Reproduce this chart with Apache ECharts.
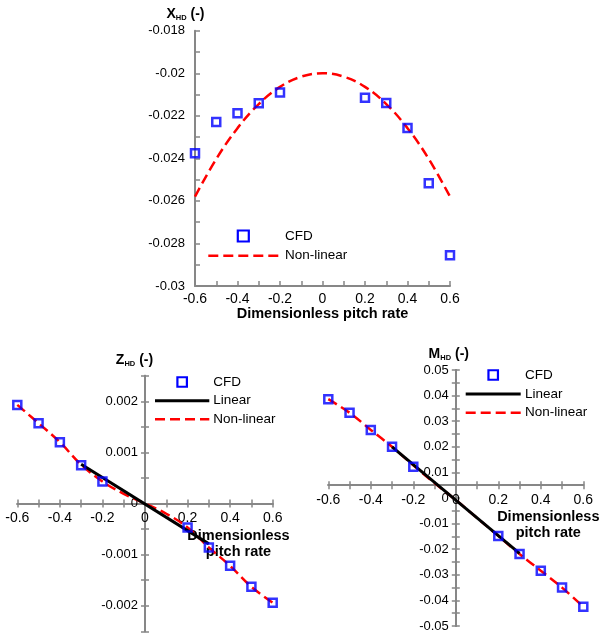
<!DOCTYPE html>
<html>
<head>
<meta charset="utf-8">
<script src="https://cdn.jsdelivr.net/npm/echarts@6/dist/echarts.min.js"></script>
<style>html,body{margin:0;padding:0;background:#fff}#c{width:600px;height:634px}</style>
</head>
<body>
<div id="c"></div>
<script>
// ---------- data ----------
const cfdQ = [-0.6, -0.5, -0.4, -0.3, -0.2, 0.2, 0.3, 0.4, 0.5, 0.6];
const lineQ = [-0.6, -0.5, -0.4, -0.3, -0.2, -0.1, 0, 0.1, 0.2, 0.3, 0.4, 0.5, 0.6];
const linearQ = [-0.3, 0.3];

const xCFD = [-0.02376, -0.02229, -0.02188, -0.02141, -0.02091, -0.02115, -0.02140, -0.02257, -0.02517, -0.02856];
const xNonLinear = [-0.0258, -0.02403, -0.02258, -0.02145, -0.02064, -0.02016, -0.0200, -0.02016, -0.02064, -0.02145, -0.02258, -0.02403, -0.0258];

const zCFD = [0.00193, 0.00157, 0.00120, 0.00075, 0.00043, -0.00047, -0.00086, -0.00122, -0.00163, -0.00194];
const zLinear = [0.00077, -0.00079];
const zNonLinear = [0.00193, 0.00157, 0.00120, 0.00076, 0.00043, 0.00019, 0, -0.00020, -0.00047, -0.00086, -0.00122, -0.00163, -0.00194];

const mCFD = [0.0386, 0.0333, 0.0266, 0.0200, 0.0122, -0.0148, -0.0219, -0.0284, -0.0350, -0.0425];
const mLinear = [0.0200, -0.0216];
const mNonLinear = [0.0386, 0.0333, 0.0266, 0.0200, 0.0128, 0.0058, -0.0008, -0.0078, -0.0148, -0.0219, -0.0284, -0.0350, -0.0425];

const xTickLabels = ['-0.6', '-0.4', '-0.2', '0', '0.2', '0.4', '0.6'];
const xName = 'Dimensionless pitch rate';
const legendNames = ['CFD', 'Linear', 'Non-linear'];

// axis ranges
const qRange = [-0.6, 0.6];
const xRange = [-0.03, -0.018];
const zRange = [-0.0025, 0.0025];
const mRange = [-0.05, 0.05];
const mCross = 0.005; // horizontal axis of the moment chart crosses here

// ---------- layout ----------
const W = 600, H = 634;
const grids = [
  { left: 195, right: 150, top: 30.7, bottom: 348 },
  { left: 17.3, right: 327.3, top: 375.75, bottom: 2.75 },
  { left: 328.3, right: 16.7, top: 370, bottom: 8 }
];
const gw = g => W - g.left - g.right;
const gh = g => H - g.top - g.bottom;
const frac = (v, r) => (v - r[0]) / (r[1] - r[0]);

// ---------- helpers ----------
const FONT = "'Liberation Sans', Arial, sans-serif";
const AXIS_GRAY = '#878787';
const BLUE = '#0000FF', RED = '#FF0000';
const pair = (xs, ys) => xs.map((x, i) => [x, ys[i]]);

function stepFormatter(step) {
  return function (v) {
    const k = Math.round(v / step * 2);
    if (k % 2 !== 0) return '';
    const val = Math.round(v / step) * step;
    return parseFloat(val.toFixed(6)).toString();
  };
}
function xFormatter(v) {
  const k = Math.round(v * 10);
  if (k % 2 !== 0) return '';
  const s = (k / 10).toString();
  return xTickLabels.indexOf(s) >= 0 ? s : '';
}

const richTitle = {
  b: { fontFamily: FONT, fontSize: 14, fontWeight: 'bold', color: '#000', lineHeight: 16 },
  s: { fontFamily: FONT, fontSize: 7.5, fontWeight: 'bold', color: '#000', lineHeight: 11, verticalAlign: 'bottom' }
};

const lineCfg = { show: true, onZero: false, lineStyle: { color: AXIS_GRAY, width: 2 } };
function tickCfg(inside, len) {
  return { show: true, inside: inside, length: len, lineStyle: { color: AXIS_GRAY, width: 1.5 } };
}
function axis(extra) {
  return Object.assign({
    type: 'value',
    splitLine: { show: false },
    axisLine: lineCfg,
    axisTick: tickCfg(false, 4),
    axisLabel: { show: false }
  }, extra);
}
const xLabel = (margin) => ({ show: true, color: '#000', fontFamily: FONT, fontSize: 14, margin: margin, formatter: xFormatter });
const yLabel = (margin, step) => ({ show: true, color: '#000', fontFamily: FONT, fontSize: 13, margin: margin, formatter: stepFormatter(step) });

// offsets that put crossing axes at the origin lines
const g1 = grids[1], g2 = grids[2];
const offZx = -gh(g1) * frac(0, zRange);
const offZxTop = -gh(g1) * (1 - frac(0, zRange));
const offZy = -gw(g1) * frac(0, qRange);
const offZyRight = -gw(g1) * (1 - frac(0, qRange));
const offMx = -gh(g2) * frac(mCross, mRange);
const offMxTop = -gh(g2) * (1 - frac(mCross, mRange));
const offMy = -gw(g2) * frac(0, qRange);
const offMyRight = -gw(g2) * (1 - frac(0, qRange));

const xAxes = [
  axis({
    gridIndex: 0, position: 'bottom', min: qRange[0], max: qRange[1], interval: 0.1,
    axisTick: tickCfg(true, 5), axisLabel: xLabel(6),
    name: xName, nameLocation: 'middle', nameGap: 19,
    nameTextStyle: { fontFamily: FONT, fontSize: 14.5, fontWeight: 'bold', color: '#000' }
  }),
  axis({
    gridIndex: 1, position: 'bottom', offset: offZx, min: qRange[0], max: qRange[1], interval: 0.1,
    axisLabel: xLabel(8),
    name: 'Dimensionless\npitch rate', nameLocation: 'middle', nameGap: 25,
    nameTextStyle: { fontFamily: FONT, fontSize: 14.5, fontWeight: 'bold', color: '#000', lineHeight: 15.5, padding: [0, 0, 0, 187] }
  }),
  axis({ gridIndex: 1, position: 'top', offset: offZxTop, min: qRange[0], max: qRange[1], interval: 0.1 }),
  axis({
    gridIndex: 2, position: 'bottom', offset: offMx, min: qRange[0], max: qRange[1], interval: 0.1,
    axisLabel: xLabel(8),
    name: 'Dimensionless\npitch rate', nameLocation: 'middle', nameGap: 24.5,
    nameTextStyle: { fontFamily: FONT, fontSize: 14.5, fontWeight: 'bold', color: '#000', lineHeight: 15.5, padding: [0, 0, 0, 185] }
  }),
  axis({ gridIndex: 2, position: 'top', offset: offMxTop, min: qRange[0], max: qRange[1], interval: 0.1 })
];

const yAxes = [
  axis({
    gridIndex: 0, position: 'left', min: xRange[0], max: xRange[1], interval: 0.001,
    axisTick: tickCfg(true, 5), axisLabel: yLabel(10, 0.002),
    name: '{b|X}{s|HD}{b| (-)}', nameLocation: 'end', nameGap: 9,
    nameTextStyle: { rich: richTitle, padding: [0, 19, 0, 0] }
  }),
  axis({
    gridIndex: 1, position: 'left', offset: offZy, min: zRange[0], max: zRange[1], interval: 0.0005,
    axisLabel: yLabel(7, 0.001),
    name: '{b|Z}{s|HD}{b| (-)}', nameLocation: 'end', nameGap: 8,
    nameTextStyle: { rich: richTitle, padding: [0, 21, 0, 0] }
  }),
  axis({ gridIndex: 1, position: 'right', offset: offZyRight, min: zRange[0], max: zRange[1], interval: 0.0005 }),
  axis({
    gridIndex: 2, position: 'left', offset: offMy, min: mRange[0], max: mRange[1], interval: 0.005,
    axisLabel: yLabel(7, 0.01),
    name: '{b|M}{s|HD}{b| (-)}', nameLocation: 'end', nameGap: 8,
    nameTextStyle: { rich: richTitle, padding: [0, 14, 0, 0] }
  }),
  axis({ gridIndex: 2, position: 'right', offset: offMyRight, min: mRange[0], max: mRange[1], interval: 0.005 })
];

function cfdSeries(data, xi, yi) {
  return {
    name: 'CFD', type: 'scatter', xAxisIndex: xi, yAxisIndex: yi, data: data,
    symbol: 'rect', symbolSize: 8, z: 5,
    itemStyle: { color: 'rgba(255,255,255,0)', borderColor: BLUE, borderWidth: 2.5 }
  };
}
function nonLinSeries(data, xi, yi) {
  return {
    name: 'Non-linear', type: 'line', xAxisIndex: xi, yAxisIndex: yi, data: data,
    symbol: 'none', smooth: 0.4, z: 3,
    lineStyle: { color: RED, width: 2.5, type: [10, 5] }
  };
}
function linSeries(data, xi, yi) {
  return {
    name: 'Linear', type: 'line', xAxisIndex: xi, yAxisIndex: yi, data: data,
    symbol: 'none', z: 4,
    lineStyle: { color: '#000000', width: 3, type: 'solid' }
  };
}

// ---------- legends (drawn as graphic keys) ----------
function legendGroup(x0, lineLen, textGap, rowY, names, sq) {
  const children = [];
  const cx = x0 + lineLen / 2;
  const tx = x0 + lineLen + textGap;
  names.forEach((n, i) => {
    const y = rowY[i];
    if (n === 'CFD') {
      children.push({ type: 'rect', shape: { x: cx - sq / 2, y: y - sq / 2, width: sq, height: sq },
        style: { fill: 'none', stroke: BLUE, lineWidth: 2.2 } });
    } else if (n === 'Linear') {
      children.push({ type: 'line', shape: { x1: x0, y1: y, x2: x0 + lineLen, y2: y },
        style: { stroke: '#000', lineWidth: 3 } });
    } else {
      children.push({ type: 'line', shape: { x1: x0, y1: y, x2: x0 + lineLen, y2: y },
        style: { stroke: RED, lineWidth: 2.5, lineDash: [10, 5] } });
    }
    children.push({ type: 'text', x: tx, y: y,
      style: { text: n, font: '13.5px ' + FONT, fill: '#000', textAlign: 'left', textVerticalAlign: 'middle' } });
  });
  return { type: 'group', children: children };
}

const option = {
  animation: false,
  backgroundColor: '#fff',
  textStyle: { fontFamily: FONT },
  grid: grids.map(g => Object.assign({ outerBoundsMode: 'none' }, g)),
  xAxis: xAxes,
  yAxis: yAxes,
  series: [
    nonLinSeries(pair(lineQ, xNonLinear), 0, 0),
    cfdSeries(pair(cfdQ, xCFD), 0, 0),

    nonLinSeries(pair(lineQ, zNonLinear), 1, 1),
    linSeries(pair(linearQ, zLinear), 1, 1),
    cfdSeries(pair(cfdQ, zCFD), 1, 1),

    nonLinSeries(pair(lineQ, mNonLinear), 3, 3),
    linSeries(pair(linearQ, mLinear), 3, 3),
    cfdSeries(pair(cfdQ, mCFD), 3, 3)
  ],
  graphic: [
    legendGroup(208.3, 70, 6.7, [236, 255.7], ['CFD', 'Non-linear'], 11),
    legendGroup(155, 54.3, 4, [382, 400.7, 419.3], legendNames, 9.5),
    legendGroup(465.7, 55, 4.3, [375, 394, 412.7], legendNames, 9.5)
  ]
};

const chart = echarts.init(document.getElementById('c'), null, { renderer: 'canvas' });
chart.setOption(option);
</script>
</body>
</html>
